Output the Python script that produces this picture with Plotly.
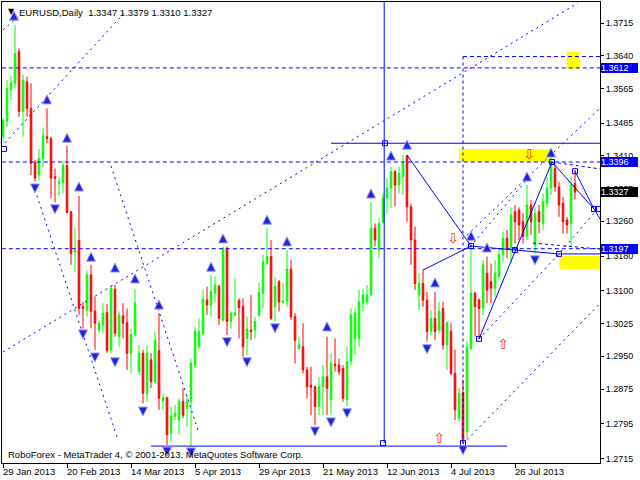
import plotly.graph_objects as go

# ---------------- data ----------------
bar_index = list(range(144))
open_ = [1.3454,1.3489,1.3563,1.3577,1.3649,1.3512,1.3580,1.3519,1.3395,1.3366,
         1.3404,1.3454,1.3450,1.3362,1.3347,1.3349,1.3388,1.3282,1.3189,1.3216,
         1.3064,1.3056,1.3137,1.3054,1.3010,1.3022,1.3051,1.2965,1.3104,1.2995,
         1.3043,1.3027,1.2957,1.2999,1.2915,1.2957,1.2865,1.2942,1.2892,1.2963,
         1.2848,1.2855,1.2773,1.2812,1.2804,1.2846,1.2831,1.2846,1.2930,1.2972,
         1.3003,1.3079,1.3068,1.3095,1.3111,1.3033,1.3198,1.3030,1.3045,1.3078,
         1.3065,1.2991,1.3010,1.3010,1.3045,1.3095,1.3163,1.3179,1.3064,1.3121,
         1.3073,1.3075,1.3150,1.3041,1.2968,1.2972,1.2919,1.2884,1.2880,1.2835,
         1.2880,1.2903,1.2850,1.2932,1.2930,1.2922,1.2850,1.2938,1.2991,1.2991,
         1.3072,1.3075,1.3091,1.3244,1.3194,1.3259,1.3313,1.3336,1.3374,1.3343,
         1.3362,1.3410,1.3293,1.3217,1.3091,1.3117,1.3079,1.3007,1.3037,1.3010,
         1.3060,1.2976,1.3007,1.2911,1.2808,1.2867,1.2777,1.2968,1.3095,1.3079,
         1.3060,1.3141,1.3121,1.3106,1.3133,1.3183,1.3221,1.3198,1.3282,1.3286,
         1.3259,1.3225,1.3297,1.3205,1.3282,1.3255,1.3301,1.3336,1.3381,1.3339,
         1.3301,1.3263,1.3255,1.3347]
high = [1.3496,1.3584,1.3593,1.3710,1.3657,1.3596,1.3592,1.3577,1.3401,1.3426,
        1.3475,1.3519,1.3454,1.3381,1.3361,1.3397,1.3433,1.3284,1.3244,1.3318,
        1.3075,1.3147,1.3160,1.3087,1.3033,1.3072,1.3070,1.3114,1.3114,1.3053,
        1.3072,1.3060,1.3014,1.3104,1.2976,1.2965,1.2976,1.2957,1.3007,1.3049,
        1.2865,1.2857,1.2835,1.2838,1.2854,1.2877,1.2861,1.2945,1.3018,1.3037,
        1.3102,1.3110,1.3137,1.3133,1.3114,1.3202,1.3202,1.3053,1.3129,1.3083,
        1.3083,1.3041,1.3091,1.3041,1.3118,1.3183,1.3244,1.3217,1.3133,1.3125,
        1.3118,1.3194,1.3171,1.3049,1.2995,1.3026,1.2926,1.2926,1.2882,1.2903,
        1.2930,1.2995,1.2957,1.2991,1.2945,1.2930,1.2972,1.3060,1.3060,1.3102,
        1.3106,1.3114,1.3305,1.3255,1.3267,1.3324,1.3359,1.3385,1.3378,1.3385,
        1.3412,1.3412,1.3301,1.3248,1.3141,1.3148,1.3098,1.3056,1.3098,1.3075,
        1.3075,1.3030,1.3026,1.2965,1.2877,1.2896,1.2984,1.3205,1.3098,1.3083,
        1.3171,1.3179,1.3163,1.3171,1.3198,1.3236,1.3240,1.3292,1.3297,1.3292,
        1.3278,1.3343,1.3309,1.3292,1.3297,1.3324,1.3362,1.3412,1.3389,1.3351,
        1.3316,1.3270,1.3362,1.3379]
low = [1.3450,1.3477,1.3538,1.3565,1.3500,1.3454,1.3500,1.3366,1.3351,1.3355,
       1.3385,1.3439,1.3313,1.3303,1.3320,1.3324,1.3278,1.3160,1.3144,1.3045,
       1.3014,1.3041,1.3014,1.2965,1.3003,1.3003,1.2958,1.2957,1.2995,1.2972,
       1.2991,1.2919,1.2911,1.2995,1.2907,1.2842,1.2846,1.2877,1.2888,1.2827,
       1.2827,1.2747,1.2754,1.2804,1.2770,1.2808,1.2789,1.2743,1.2926,1.2968,
       1.2999,1.3045,1.3041,1.3075,1.3022,1.3030,1.2999,1.3014,1.3041,1.2991,
       1.2949,1.2953,1.2987,1.2991,1.3041,1.3060,1.3160,1.3033,1.3030,1.3053,
       1.3072,1.3064,1.3033,1.2934,1.2965,1.2911,1.2854,1.2815,1.2792,1.2815,
       1.2815,1.2815,1.2815,1.2915,1.2907,1.2846,1.2835,1.2930,1.2953,1.2972,
       1.3053,1.3068,1.3087,1.3202,1.3175,1.3255,1.3278,1.3290,1.3294,1.3324,
       1.3320,1.3259,1.3160,1.3102,1.3056,1.3064,1.2984,1.2999,1.2987,1.3003,
       1.2965,1.2919,1.2907,1.2804,1.2800,1.2750,1.2762,1.2965,1.2995,1.2991,
       1.3045,1.3072,1.3072,1.3087,1.3125,1.3167,1.3175,1.3163,1.3209,1.3217,
       1.3209,1.3217,1.3228,1.3186,1.3232,1.3240,1.3294,1.3320,1.3328,1.3270,
       1.3232,1.3232,1.3202,1.3310]
close = [1.3492,1.3565,1.3577,1.3645,1.3512,1.3584,1.3519,1.3393,1.3359,1.3404,
         1.3456,1.3450,1.3359,1.3359,1.3351,1.3388,1.3280,1.3186,1.3193,1.3060,
         1.3060,1.3137,1.3053,1.3026,1.3026,1.3049,1.2963,1.3106,1.3003,1.3045,
         1.3026,1.2957,1.3000,1.3072,1.2957,1.2865,1.2957,1.2892,1.2987,1.2854,
         1.2855,1.2770,1.2813,1.2819,1.2846,1.2815,1.2846,1.2934,1.3007,1.3007,
         1.3081,1.3068,1.3098,1.3114,1.3037,1.3198,1.3030,1.3049,1.3050,1.3062,
         1.2972,1.3012,1.3007,1.3030,1.3096,1.3167,1.3179,1.3037,1.3111,1.3075,
         1.3077,1.3150,1.3041,1.2987,1.2976,1.2919,1.2880,1.2879,1.2835,1.2880,
         1.2903,1.2877,1.2934,1.2928,1.2915,1.2854,1.2938,1.3045,1.3049,1.3075,
         1.3091,1.3091,1.3244,1.3217,1.3255,1.3313,1.3336,1.3374,1.3343,1.3370,
         1.3393,1.3293,1.3217,1.3117,1.3117,1.3079,1.3007,1.3037,1.3007,1.3053,
         1.2976,1.3027,1.2911,1.2827,1.2865,1.2758,1.2972,1.3095,1.3064,1.3060,
         1.3160,1.3102,1.3106,1.3141,1.3183,1.3221,1.3198,1.3274,1.3259,1.3251,
         1.3225,1.3297,1.3259,1.3278,1.3259,1.3305,1.3336,1.3397,1.3339,1.3297,
         1.3259,1.3251,1.3343,1.3327]

date_tick_index = [0, 16, 32, 48, 64, 80, 96, 112, 128]
date_tick_text = ["29 Jan 2013", "20 Feb 2013", "14 Mar 2013", "5 Apr 2013", "29 Apr 2013",
                  "21 May 2013", "12 Jun 2013", "4 Jul 2013", "26 Jul 2013"]
price_tick_vals = [1.3715, 1.3640, 1.3565, 1.3485, 1.3410, 1.3335, 1.3260, 1.3180,
                   1.3100, 1.3025, 1.2950, 1.2875, 1.2795, 1.2715]
price_tick_text = ["1.3715", "1.3640", "1.3565", "1.3485", "1.3410", "1.3335", "1.3260", "1.3180",
                   "1.3100", "1.3025", "1.2950", "1.2875", "1.2795", "1.2715"]

# level lines / price boxes
level_full = [1.3612, 1.3396, 1.3197]
level_box_blue = [1.3612, 1.3396, 1.3197]
last_price = 1.3327
level_partial_x = [115, 149.3]
level_partial_y = [1.3638, 1.3638]

# fractal arrows (tip positions)
up_x = [2.75, 11, 16, 19, 22, 28, 33, 39, 52, 55, 66, 71, 81, 92, 97, 101, 108, 117, 121, 131, 137]
up_y = [1.3742, 1.3550, 1.3462, 1.3350, 1.3189, 1.3164, 1.3139, 1.3079, 1.3166, 1.3231, 1.3274,
        1.3224, 1.3029, 1.3334, 1.3421, 1.3446, 1.3130, 1.3237, 1.3210, 1.3373, 1.3428]
dn_x = [8, 13, 20, 23, 28, 35, 41, 47, 56, 61, 68, 78, 82, 86, 106, 115, 133]
dn_y = [1.3325, 1.3277, 1.2990, 1.2937, 1.2926, 1.2813, 1.2721, 1.2719, 1.2972, 1.2926, 1.3004,
        1.2767, 1.2788, 1.2809, 1.2956, 1.2724, 1.3160]

# hollow signal arrows
sig_dn_x = [112.5, 131.5]
sig_dn_y = [1.3217, 1.3410]
sig_up_x = [125, 109]
sig_up_y = [1.2974, 1.2760]

# small square anchors
sq_x = [0.25, 95.5, 95, 115, 117, 119, 128, 137.25, 143, 139, 147.75, 148.75]
sq_y = [1.3426, 1.3439, 1.2751, 1.2751, 1.3203, 1.2990, 1.3194, 1.3396, 1.3375, 1.3185, 1.3288, 1.3288]

# solid trend objects
solid_lines = [
    ([82, 149.3], [1.3439, 1.3439]),
    ([95.3, 95.3], [1.3765, 1.2751]),
    ([37, 126], [1.2744, 1.2744]),
    ([101, 117], [1.3412, 1.3203]),
    ([105, 117], [1.3148, 1.3203]),
    ([117, 128], [1.3203, 1.3194]),
    ([128, 139, 149.3], [1.3194, 1.3185, 1.3185]),
    ([119, 137.25], [1.2990, 1.3396]),
    ([137.25, 147.75, 149.3], [1.3396, 1.3288, 1.3265]),
    ([143, 147.75], [1.3375, 1.3288]),
]
# dotted channel lines
dotted_lines = [
    ([0, 4.25], [1.3699, 1.3733]),
    ([0.5, 30.5], [1.3440, 1.3740]),
    ([8, 28.75], [1.3332, 1.2758]),
    ([27, 49], [1.3387, 1.2774]),
    ([0, 143.75], [1.2960, 1.3761]),
    ([115, 149.3], [1.2749, 1.3072]),
    ([119, 139, 148.25], [1.2990, 1.3185, 1.3284]),
    ([116.75, 131.75], [1.3201, 1.3364]),
    ([116, 149.3], [1.3228, 1.3520]),
]
# dashed short lines
dashed_lines = [
    ([137.25, 149.3], [1.3396, 1.3380]),
    ([132.5, 149.3], [1.3210, 1.3196]),
    ([115, 115], [1.3638, 1.2745]),
]
# yellow zones: (x0, x1, y0, y1)
zones = [(114, 137, 1.3396, 1.3426), (140.9, 144.1, 1.3609, 1.3649), (139.1, 149.3, 1.3150, 1.3180)]

BLUE = "#0000ff"
FONT = "Liberation Sans, Arial, sans-serif"

fig = go.Figure()

for (x0, x1, y0, y1) in zones:
    fig.add_shape(type="rect", xref="x", yref="y", x0=x0, x1=x1, y0=y0, y1=y1,
                  fillcolor="#ffff00", line=dict(width=0), layer="below")

fig.add_trace(go.Candlestick(
    x=bar_index, open=open_, high=high, low=low, close=close,
    increasing=dict(line=dict(color="#00ff00", width=1), fillcolor="#00ff00"),
    decreasing=dict(line=dict(color="#ff0000", width=1), fillcolor="#ff0000"),
    whiskerwidth=0, hoverinfo="skip", showlegend=False))

for lv in level_full:
    fig.add_trace(go.Scatter(x=[-0.3, 149.3], y=[lv, lv], mode="lines",
                             line=dict(color=BLUE, width=1, dash="4px,3px"),
                             hoverinfo="skip", showlegend=False))
fig.add_trace(go.Scatter(x=level_partial_x, y=level_partial_y, mode="lines",
                         line=dict(color=BLUE, width=1, dash="4px,3px"),
                         hoverinfo="skip", showlegend=False))
for xs, ys in dashed_lines:
    fig.add_trace(go.Scatter(x=xs, y=ys, mode="lines",
                             line=dict(color=BLUE, width=1, dash="3px,3px"),
                             hoverinfo="skip", showlegend=False))
for xs, ys in dotted_lines:
    fig.add_trace(go.Scatter(x=xs, y=ys, mode="lines",
                             line=dict(color=BLUE, width=1, dash="2px,4px"),
                             hoverinfo="skip", showlegend=False))
for xs, ys in solid_lines:
    fig.add_trace(go.Scatter(x=xs, y=ys, mode="lines",
                             line=dict(color=BLUE, width=1),
                             hoverinfo="skip", showlegend=False))

fig.add_trace(go.Scatter(x=sq_x, y=sq_y, mode="markers",
                         marker=dict(symbol="square-open", size=5, color=BLUE, line=dict(width=1, color=BLUE)),
                         hoverinfo="skip", showlegend=False))

fig.add_trace(go.Scatter(x=up_x, y=up_y, mode="markers",
                         marker=dict(symbol="arrow-up", size=9, color="#2222dd",
                                     line=dict(width=1, color="#9a9aff")),
                         hoverinfo="skip", showlegend=False))
fig.add_trace(go.Scatter(x=dn_x, y=dn_y, mode="markers",
                         marker=dict(symbol="arrow-down", size=9, color="#2222dd",
                                     line=dict(width=1, color="#9a9aff")),
                         hoverinfo="skip", showlegend=False))

fig.add_trace(go.Scatter(x=sig_dn_x, y=sig_dn_y, mode="text", text=["⇩"] * len(sig_dn_x),
                         textfont=dict(color="#ff3300", size=14, family="DejaVu Sans"),
                         hoverinfo="skip", showlegend=False))
fig.add_trace(go.Scatter(x=sig_up_x, y=sig_up_y, mode="text", text=["⇧"] * len(sig_up_x),
                         textfont=dict(color="#ff3300", size=14, family="DejaVu Sans"),
                         hoverinfo="skip", showlegend=False))

annotations = []
for idx, txt in zip(date_tick_index, date_tick_text):
    annotations.append(dict(x=idx, xref="x", y=0, yref="paper", text=txt, showarrow=False,
                            xanchor="left", yanchor="middle", xshift=-2, yshift=-8,
                            font=dict(family=FONT, size=9.5, color="black")))
for lv in level_box_blue:
    annotations.append(dict(x=1, xref="paper", y=lv, yref="y", text=f"{lv:.4f}", showarrow=False,
                            xanchor="left", yanchor="middle", xshift=1, width=37, height=10,
                            align="left", bgcolor=BLUE, borderpad=0, borderwidth=0,
                            font=dict(family=FONT, size=9, color="white")))
annotations.append(dict(x=1, xref="paper", y=last_price, yref="y", text=f"{last_price:.4f}", showarrow=False,
                        xanchor="left", yanchor="middle", xshift=1, width=37, height=10,
                        align="left", bgcolor="black", borderpad=0, borderwidth=0,
                        font=dict(family=FONT, size=9, color="white")))
annotations.append(dict(x=0, xref="paper", y=1, yref="paper",
                        text="EURUSD,Daily  1.3347 1.3379 1.3310 1.3327", showarrow=False,
                        xanchor="left", yanchor="top", xshift=15, yshift=-3,
                        font=dict(family=FONT, size=9.5, color="black")))
annotations.append(dict(x=0, xref="paper", y=1, yref="paper", text="▼", showarrow=False,
                        xanchor="left", yanchor="top", xshift=4, yshift=-3,
                        font=dict(family="DejaVu Sans", size=8, color="black")))
annotations.append(dict(x=0, xref="paper", y=0, yref="paper",
                        text="RoboForex - MetaTrader 4, © 2001-2013, MetaQuotes Software Corp.",
                        showarrow=False, xanchor="left", yanchor="bottom", xshift=4, yshift=1,
                        font=dict(family=FONT, size=9.5, color="black")))

fig.update_layout(
    width=640, height=480,
    margin=dict(l=2, r=40, t=2, b=17),
    paper_bgcolor="white", plot_bgcolor="white",
    showlegend=False, boxgap=0.45,
    annotations=annotations,
    xaxis=dict(range=[-0.25, 149.25], showgrid=False, zeroline=False,
               showline=True, linecolor="black", linewidth=1, mirror=True,
               tickmode="array", tickvals=date_tick_index, showticklabels=False,
               ticks="outside", ticklen=4, tickcolor="black",
               rangeslider=dict(visible=False), fixedrange=True),
    yaxis=dict(range=[1.27052, 1.37632], side="right", showgrid=False, zeroline=False,
               showline=True, linecolor="black", linewidth=1, mirror=True,
               tickmode="array", tickvals=price_tick_vals, ticktext=price_tick_text,
               ticks="outside", ticklen=3, tickcolor="black",
               tickfont=dict(family=FONT, size=9, color="black"), fixedrange=True),
)

fig.write_html("out.html", config={"displayModeBar": False},
               post_script="document.body.style.margin='0';document.body.style.overflow='hidden';")
